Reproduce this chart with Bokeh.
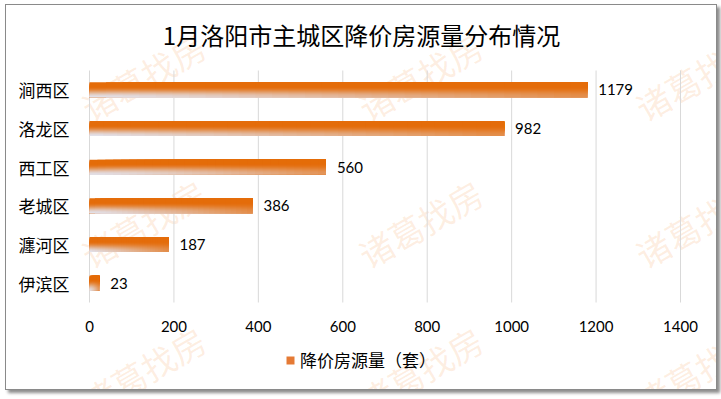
from bokeh.plotting import figure
from bokeh.models import Range1d, Label, Legend, LegendItem, ColumnDataSource
from bokeh.embed import file_html
from bokeh.resources import INLINE
from bokeh.core.properties import value

# ---------------- data ----------------
districts = ["涧西区", "洛龙区", "西工区", "老城区", "瀍河区", "伊滨区"]
counts = [1179, 982, 560, 386, 187, 23]
x_ticks = [0, 200, 400, 600, 800, 1000, 1200, 1400]
title_text = "1月洛阳市主城区降价房源量分布情况"
series_name = "降价房源量（套）"
watermark = "诸葛找房"

ORANGE = (228, 108, 10)
LIGHT = (226, 226, 236)

n = len(districts)
ypos = [n - 1 - i for i in range(n)]  # top to bottom

# page geometry: figure content box spans x 6..718, y 5..391
OX, OY = 6, 5
W, H = 712, 386
FL, FR, FT, FB = 89, 680, 70, 302   # pixel box of the value area
XMAX = x_ticks[-1]
x_per_px = XMAX / (FR - FL)
y_per_px = n / (FB - FT)


def px2x(px):
    return (px - FL) * x_per_px


def py2y(py):
    return (n - 0.5) + (FT - py) * y_per_px


p = figure(width=W, height=H, output_backend="svg", toolbar_location=None,
           x_range=Range1d(px2x(OX), px2x(OX + W)), y_range=Range1d(py2y(OY + H), py2y(OY)),
           x_axis_location=None, y_axis_location=None,
           min_border=0, min_border_left=0, min_border_right=0,
           min_border_top=0, min_border_bottom=0)
p.styles = {"border": "1px solid #8a8a8a", "box-shadow": "3px 3px 3px rgba(0,0,0,0.45)",
            "margin-left": "5px", "margin-top": "4px"}
p.background_fill_color = "white"
p.border_fill_color = "white"
p.outline_line_color = None
p.xgrid.visible = False
p.ygrid.visible = False

# watermarks
for cy in [76, 223, 370]:
    for cx in [143, 420, 697]:
        p.add_layout(Label(x=px2x(cx), y=py2y(cy), text=watermark, angle=30, angle_units="deg",
                           text_align="center", text_baseline="middle",
                           text_font="Noto Sans CJK SC", text_font_size="34px",
                           text_color="#F79646", text_alpha=0.16, level="underlay"))

# vertical grid lines
p.segment(x0=x_ticks, y0=[-0.5] * len(x_ticks), x1=x_ticks, y1=[n - 0.5] * len(x_ticks),
          line_color="#D9D9D9", line_width=1)

# gradient bars: overlapping cells so no seams show
bar_h = 15 * y_per_px
ROWS, COLS = 15, 30
L, R, T, B, C = [], [], [], [], []


def smooth(a):
    a = max(0.0, min(1.0, a))
    return a * a * (3 - 2 * a)


for yi, v in zip(ypos, counts):
    bar_bot = yi - bar_h / 2
    for r in range(ROWS):
        vv = (r + 0.5) / ROWS
        top = yi + bar_h / 2 - bar_h * r / ROWS
        for c in range(COLS):
            uu = (c + 0.5) / COLS
            t = smooth((vv - 0.3) / 0.7) * (1 - 0.72 * uu)
            col = tuple(int(round(ORANGE[k] * (1 - t) + LIGHT[k] * t)) for k in range(3))
            L.append(v * c / COLS)
            R.append(v)
            T.append(top)
            B.append(bar_bot)
            C.append("#%02x%02x%02x" % col)

src = ColumnDataSource(dict(left=L, right=R, top=T, bottom=B, color=C))
p.quad(left="left", right="right", top="top", bottom="bottom", source=src,
       fill_color="color", line_color=None)

# value labels
p.text(x=counts, y=ypos, text=[str(c) for c in counts], x_offset=11,
       text_baseline="middle", text_align="left", text_font=value("Lato"),
       text_font_size="15px", text_color="#000000")

# category labels (y axis)
p.text(x=[0] * n, y=ypos, text=districts, x_offset=-20, text_align="right",
       text_baseline="middle", text_font=value("Noto Sans CJK SC"),
       text_font_size="17px", text_color="#000000")

# value tick labels (x axis)
p.text(x=x_ticks, y=[-0.5] * len(x_ticks), text=[str(t) for t in x_ticks], y_offset=24,
       text_align="center", text_baseline="middle", text_font=value("Lato"),
       text_font_size="15px", text_color="#000000")

# title
p.add_layout(Label(x=px2x(361), y=py2y(34), text=title_text, text_align="center",
                   text_baseline="middle", text_font="Noto Sans CJK SC",
                   text_font_size="24px", text_color="#000000"))

# legend
dummy = p.quad(left=[0], right=[0], top=[0], bottom=[0], fill_color="#E57A35",
               line_color=None, fill_alpha=1.0)
legend = Legend(items=[LegendItem(label=series_name, renderers=[dummy])],
                location=(279, 19), orientation="horizontal",
                glyph_width=10, glyph_height=10, label_standoff=5, padding=0, margin=0,
                spacing=0, border_line_color=None, background_fill_alpha=0,
                label_text_font="Noto Sans CJK SC", label_text_font_size="17px",
                label_text_color="#000000", label_height=20)
p.add_layout(legend, "center")

open("out.html", "w").write(file_html(p, INLINE))
